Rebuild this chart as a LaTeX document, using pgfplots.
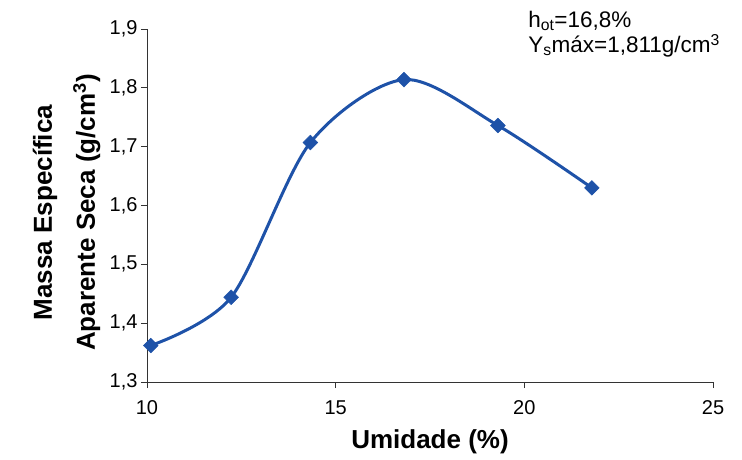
\documentclass[border=0pt]{standalone}
\usepackage{pgfplots}
\pgfplotsset{compat=1.18}
\usepackage{fontspec}
\setmainfont{Liberation Sans}
\definecolor{lineblue}{RGB}{30,82,168}
\begin{document}
\begin{tikzpicture}
\useasboundingbox (-147pt,-77pt) rectangle (595pt,382pt);
\begin{axis}[
  scale only axis, width=566pt, height=353pt,
  xmin=10, xmax=25, ymin=1.3, ymax=1.9,
  axis lines*=left, clip=false,
  axis line style={black!80, line width=0.8pt},
  xtick={10,15,20,25}, ytick={1.3,1.4,1.5,1.6,1.7,1.8,1.9},
  tick align=outside, major tick length=6pt,
  tick style={black!80, line width=0.8pt},
  /pgf/number format/assume math mode=true,
  tick label style={font=\fontsize{20}{23}\selectfont},
  yticklabel style={/pgf/number format/.cd, fixed, fixed zerofill, precision=1, use comma},
  xticklabel style={yshift=-9pt},
  xlabel={Umidade (\%)},
  xlabel style={font=\bfseries\fontsize{26}{30}\selectfont, at={(axis description cs:0.5,-0.17)}, anchor=center},
  ylabel={Massa Específica\\Aparente Seca (g/cm\textsuperscript{3})},
  ylabel style={align=center, font=\bfseries\fontsize{26}{43}\selectfont, at={(axis description cs:-0.142,0.48)}, anchor=center},
]
\addplot[color=lineblue, line width=3pt, smooth, mark=square*, mark size=5.2pt, mark options={fill=lineblue, draw=lineblue, line width=0.5pt, rotate=45}]
  coordinates {(10.1,1.362)(12.23,1.444)(14.33,1.707)(16.81,1.814)(19.30,1.736)(21.79,1.630)};
\node[anchor=north west, inner sep=0pt, align=left, font=\fontsize{22.5}{25}\selectfont]
  at (axis cs:20.1,1.93) {h\textsubscript{ot}=16,8\%\\Y\textsubscript{s}máx=1,811g/cm\textsuperscript{3}};
\end{axis}
\end{tikzpicture}
\end{document}
